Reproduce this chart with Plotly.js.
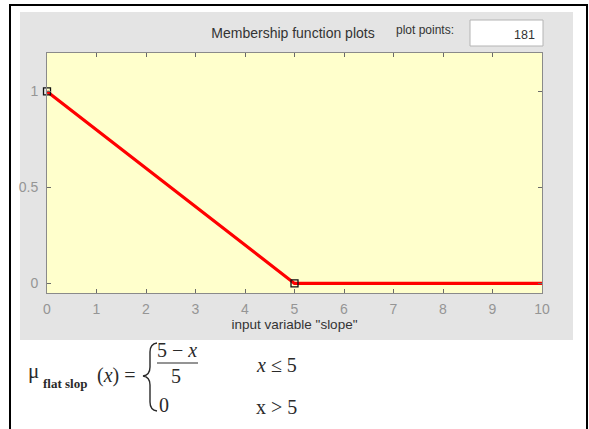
<!DOCTYPE html>
<html>
<head>
<meta charset="utf-8">
<script src="https://cdn.plot.ly/plotly-3.0.1.min.js"></script>
<style>
  html, body { margin: 0; padding: 0; background: #ffffff; }
  #chart { width: 589px; height: 429px; }
</style>
</head>
<body>
<div id="chart"></div>
<script>
// ---- data ----
var mfX = [0, 5, 10];          // input variable "slope"
var mfY = [1, 0, 0];           // membership degree of "flat slop"
var markerX = [0, 5];          // MF parameter points
var markerY = [1, 0];
var xTicks = [0, 1, 2, 3, 4, 5, 6, 7, 8, 9, 10];
var yTicks = [0, 0.5, 1];
var yTickText = ["0", "0.5", "1"];
var plotPoints = "181";

// ---- pixel helpers (plot area: x 47..542, y 53..293) ----
var L = 47, R = 542, T = 53, B = 293;
function px(x) { return (x - L) / (R - L); }
function py(y) { return (B - y) / (B - T); }
function pt(x, y) { return px(x) + "," + py(y); }

var bracePath = "M" + pt(157, 343) +
  " Q" + pt(150, 344) + " " + pt(150, 352) +
  " L" + pt(150, 367) +
  " Q" + pt(150, 375) + " " + pt(143, 376) +
  " Q" + pt(150, 377) + " " + pt(150, 385) +
  " L" + pt(150, 402) +
  " Q" + pt(150, 410) + " " + pt(157, 411);

var serif = "Liberation Serif, DejaVu Serif, serif";
var sans = "Liberation Sans, Arial, sans-serif";
var ink = "#2a2a2a";

var traces = [
  {
    x: mfX, y: mfY, type: "scatter", mode: "lines",
    line: { color: "#ff0000", width: 3.2 },
    hoverinfo: "skip", showlegend: false
  },
  {
    x: markerX, y: markerY, type: "scatter", mode: "markers",
    marker: { symbol: "square-open", size: 7, color: "#111111", line: { width: 1.3 } },
    hoverinfo: "skip", showlegend: false, cliponaxis: false
  }
];

var shapes = [
  { type: "rect", xref: "paper", yref: "paper", layer: "below",
    x0: px(20), x1: px(573), y0: py(12), y1: py(340),
    fillcolor: "#e4e4e4", line: { width: 0 } },
  { type: "rect", xref: "paper", yref: "paper", layer: "below",
    x0: 0, x1: 1, y0: 0, y1: 1,
    fillcolor: "#ffffcc", line: { width: 0 } },
  { type: "rect", xref: "paper", yref: "paper", layer: "below",
    x0: px(470), x1: px(543), y0: py(20), y1: py(46),
    fillcolor: "#ffffff", line: { color: "#b4b4b4", width: 1 } },
  { type: "line", xref: "paper", yref: "paper", x0: px(10), x1: px(10), y0: py(4), y1: py(440),
    line: { color: "#000000", width: 2 } },
  { type: "line", xref: "paper", yref: "paper", x0: px(9), x1: px(588), y0: py(5), y1: py(5),
    line: { color: "#000000", width: 2 } },
  { type: "line", xref: "paper", yref: "paper", x0: px(587), x1: px(587), y0: py(4), y1: py(440),
    line: { color: "#000000", width: 2 } },
  { type: "path", xref: "paper", yref: "paper", path: bracePath,
    line: { color: ink, width: 1.4 } },
  { type: "line", xref: "paper", yref: "paper", x0: px(157), x1: px(198), y0: py(363), y1: py(363),
    line: { color: ink, width: 1.2 } }
];

function ann(text, x, y, size, xanchor) {
  return {
    text: text, xref: "paper", yref: "paper", x: px(x), y: py(y),
    xanchor: xanchor || "left", yanchor: "middle", showarrow: false,
    font: { family: serif, size: size, color: ink }
  };
}

var annotations = [
  { text: "plot points:", xref: "paper", yref: "paper", x: px(394), y: py(30),
    xanchor: "left", yanchor: "middle", showarrow: false,
    font: { family: sans, size: 12, color: "#333333" } },
  { text: plotPoints, xref: "paper", yref: "paper", x: px(537), y: py(35),
    xanchor: "right", yanchor: "middle", showarrow: false,
    font: { family: sans, size: 12.5, color: "#333333" } },
  ann("\u03BC", 26, 371, 21, "left"),
  ann("<b>flat slop</b>", 41, 383, 13, "left"),
  ann("(<i>x</i>) =", 95, 375, 20, "left"),
  ann("5 \u2212 <i>x</i>", 177, 350, 20, "center"),
  ann("5", 176, 376, 20, "center"),
  ann("0", 157, 405, 20, "left"),
  ann("<i>x</i> \u2264 5", 254, 365, 20, "left"),
  ann("x > 5", 254, 407, 20, "left")
];

var axisCommon = {
  showline: true, linecolor: "#8a8a8a", linewidth: 1, mirror: "ticks",
  ticks: "inside", ticklen: 4, tickcolor: "#6a6a6a", tickwidth: 1,
  showgrid: false, zeroline: false, fixedrange: true,
  tickfont: { family: sans, size: 14, color: "#959595" }
};

var layout = {
  width: 589, height: 429,
  margin: { l: L, r: 589 - R, t: T, b: 429 - B, pad: 0 },
  paper_bgcolor: "#ffffff",
  plot_bgcolor: "rgba(0,0,0,0)",
  showlegend: false,
  title: {
    text: "Membership function plots",
    xref: "container", yref: "container",
    x: 293 / 589, y: 1 - 33 / 429, xanchor: "center", yanchor: "middle",
    font: { family: sans, size: 14, color: "#333333" }
  },
  xaxis: Object.assign({}, axisCommon, {
    range: [0, 10], tickmode: "array", tickvals: xTicks,
    ticklabelstandoff: 3,
    title: { text: "input variable \"slope\"", standoff: 3,
             font: { family: sans, size: 13.5, color: "#333333" } }
  }),
  yaxis: Object.assign({}, axisCommon, {
    range: [-0.05, 1.2], tickmode: "array", tickvals: yTicks, ticktext: yTickText,
    ticklabelstandoff: 5
  }),
  shapes: shapes,
  annotations: annotations
};

Plotly.newPlot("chart", traces, layout, { staticPlot: true, displayModeBar: false });
</script>
</body>
</html>
